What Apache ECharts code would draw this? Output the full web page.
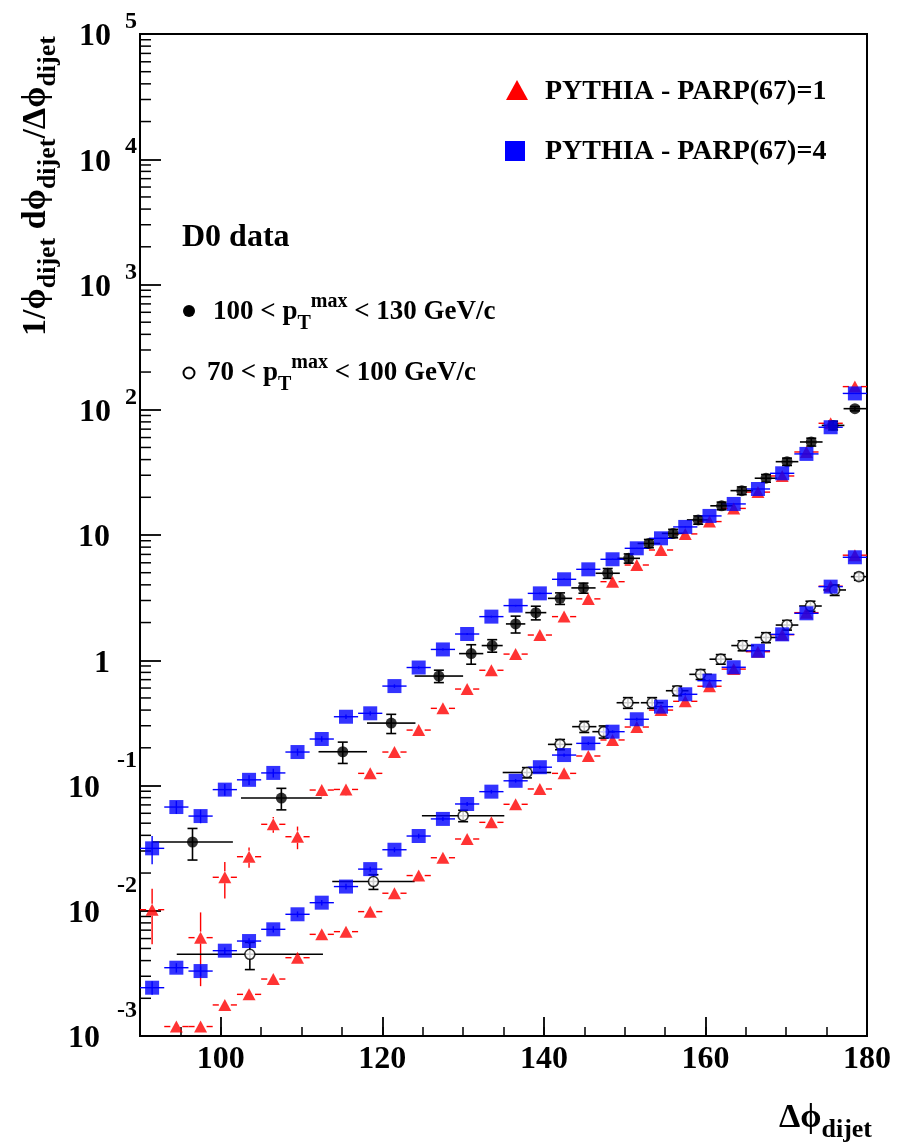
<!DOCTYPE html>
<html>
<head>
<meta charset="utf-8">
<script src="https://cdn.jsdelivr.net/npm/echarts@6/dist/echarts.min.js"></script>
<style>
  html, body { margin: 0; padding: 0; background: #fff; }
  #chart { width: 908px; height: 1146px; }
</style>
</head>
<body>
<div id="chart"></div>
<script>
// Monte Carlo bin centres (degrees) and half bin width
const mcBins = [91.5, 94.5, 97.5, 100.5, 103.5, 106.5, 109.5, 112.5, 115.5, 118.5,
  121.5, 124.5, 127.5, 130.5, 133.5, 136.5, 139.5, 142.5, 145.5, 148.5,
  151.5, 154.5, 157.5, 160.5, 163.5, 166.5, 169.5, 172.5, 175.5, 178.5];
const mcHalfWidth = 1.5;

// PYTHIA PARP(67)=1, 100 < pTmax < 130 GeV/c
const parp1High = [0.0102, null, 0.0061, 0.0185, 0.027, 0.049, 0.039, 0.092, 0.093, 0.125,
  0.185, 0.277, 0.413, 0.589, 0.832, 1.12, 1.59, 2.23, 3.09, 4.24,
  5.76, 7.59, 10.2, 12.8, 16.3, 22.0, 29.6, 46, 78, 153];
const parp1HighErr = [0.0048, null, 0.0036, 0.006, 0.005, 0.007, 0.008, 0.01, 0.01, 0.01,
  0.01, 0.012, 0.015, 0.02, 0.025, 0.03, 0.04, 0.05, 0.06, 0.08,
  0.1, 0.12, 0.15, 0.2, 0.25, 0.3, 0.4, 0.6, 0.9, 1.5];
// PYTHIA PARP(67)=1, 70 < pTmax < 100 GeV/c
const parp1Low = [null, 0.00119, 0.00119, 0.00177, 0.00215, 0.00285, 0.00422, 0.00648, 0.00681, 0.00984,
  0.0138, 0.0191, 0.0265, 0.0374, 0.0508, 0.0708, 0.0938, 0.125, 0.172, 0.231,
  0.293, 0.40, 0.47, 0.62, 0.85, 1.17, 1.6, 2.4, 3.9, 6.9];
const parp1LowErr = [null, 0.0001, 0.0001, 0.00015, 0.00015, 0.0002, 0.0003, 0.0004, 0.0004, 0.0005,
  0.0007, 0.0009, 0.0012, 0.0015, 0.002, 0.0025, 0.003, 0.004, 0.005, 0.006,
  0.008, 0.01, 0.012, 0.015, 0.02, 0.025, 0.03, 0.04, 0.06, 0.1];

// PYTHIA PARP(67)=4, 100 < pTmax < 130 GeV/c
const parp4High = [0.0315, 0.0673, 0.057, 0.0927, 0.111, 0.126, 0.185, 0.235, 0.354, 0.377,
  0.622, 0.875, 1.22, 1.62, 2.23, 2.73, 3.42, 4.43, 5.32, 6.40,
  7.83, 9.41, 11.6, 14.2, 17.7, 23.3, 31.1, 44.4, 72.5, 135];
const parp4HighErr = [0.008, 0.008, 0.007, 0.01, 0.01, 0.01, 0.012, 0.012, 0.015, 0.015,
  0.02, 0.02, 0.025, 0.03, 0.04, 0.04, 0.05, 0.06, 0.07, 0.08,
  0.09, 0.1, 0.12, 0.15, 0.2, 0.25, 0.3, 0.4, 0.6, 1.0];
// PYTHIA PARP(67)=4, 70 < pTmax < 100 GeV/c
const parp4Low = [0.00243, 0.00351, 0.0033, 0.0048, 0.00573, 0.00711, 0.00937, 0.0116, 0.0156, 0.0215,
  0.0307, 0.0395, 0.0541, 0.0712, 0.0893, 0.109, 0.140, 0.175, 0.217, 0.269,
  0.338, 0.426, 0.535, 0.687, 0.879, 1.19, 1.61, 2.37, 3.87, 6.64];
const parp4LowErr = [0.0003, 0.0003, 0.0003, 0.0003, 0.0003, 0.0004, 0.0005, 0.0006, 0.0008, 0.001,
  0.0014, 0.0017, 0.002, 0.0025, 0.003, 0.0035, 0.004, 0.005, 0.006, 0.007,
  0.009, 0.011, 0.013, 0.016, 0.02, 0.025, 0.03, 0.04, 0.06, 0.1];

// D0 data, 100 < pTmax < 130 GeV/c
const d0HighX = [96.5, 107.5, 115.1, 121.1, 127.0, 131.0, 133.6, 136.5, 139.0, 142.0,
  144.9, 147.9, 150.5, 153.0, 156.0, 159.1, 162.0, 164.5, 167.5, 170.1, 173.1, 175.8, 178.5];
const d0HighXErr = [5, 5, 3, 3, 3, 1.5, 1.3, 1.2, 1.3, 1.5,
  1.5, 1.5, 1.4, 1.4, 1.4, 1.4, 1.4, 1.4, 1.4, 1.4, 1.4, 1.4, 1.4];
const d0HighY = [0.0354, 0.0794, 0.186, 0.315, 0.748, 1.13, 1.31, 1.95, 2.40, 3.12,
  3.78, 4.95, 6.51, 8.56, 10.3, 13.2, 17.1, 22.6, 28.4, 38.5, 55.3, 75, 102];
const d0HighYErr = [0.010, 0.0155, 0.036, 0.055, 0.085, 0.2, 0.15, 0.3, 0.3, 0.33,
  0.35, 0.45, 0.55, 0.65, 0.8, 1.0, 1.2, 1.6, 2.0, 2.6, 4.0, 6, 4];

// D0 data, 70 < pTmax < 100 GeV/c
const d0LowX = [103.6, 118.9, 130.0, 137.9, 142.0, 145.0, 147.4, 150.4, 153.4, 156.5,
  159.4, 161.9, 164.6, 167.5, 170.1, 173.0, 176.0, 179.0];
const d0LowXErr = [9.05, 5.1, 5.1, 3, 1.5, 1.5, 1.4, 1.4, 1.4, 1.4,
  1.4, 1.4, 1.4, 1.4, 1.4, 1.4, 1.4, 1.0];
const d0LowY = [0.00449, 0.0171, 0.0574, 0.127, 0.213, 0.295, 0.269, 0.458, 0.458, 0.571,
  0.772, 1.02, 1.31, 1.52, 1.91, 2.71, 3.64, 4.65];
const d0LowYErr = [0.0011, 0.0023, 0.006, 0.012, 0.02, 0.03, 0.03, 0.045, 0.045, 0.05,
  0.07, 0.09, 0.12, 0.14, 0.17, 0.25, 0.35, 0.3];

// Axis ticks
const xMajorTicks = [100, 120, 140, 160, 180];
const yMinorMultipliers = [2, 3, 4, 5, 6, 7, 8, 9];
const yDecades = [-3, -2, -1, 0, 1, 2, 3, 4];

// Legend / annotation texts
const mcNames = ['PYTHIA - PARP(67)=1', 'PYTHIA - PARP(67)=4'];
const dataTitle = 'D0 data';
const PHI = 'ϕ';

const FONT = '"Liberation Serif", "Times New Roman", "DejaVu Serif", serif';
const RED = '#ff0000', BLUE = '#0000ff', BLACK = '#000000';

// Build [x, y, xErr, yErr] rows, skipping empty bins
function rows(xs, ys, xe, ye) {
  const out = [];
  for (let i = 0; i < xs.length; i++) {
    if (ys[i] == null) continue;
    out.push([xs[i], ys[i], Array.isArray(xe) ? xe[i] : xe, ye[i]]);
  }
  return out;
}

const yMinorTicks = [];
yDecades.forEach(function (d) {
  yMinorMultipliers.forEach(function (m) { yMinorTicks.push([90, m * Math.pow(10, d)]); });
});

// Error-bar renderer: horizontal bin width and vertical uncertainty,
// optionally leaving a gap around the marker and drawing end caps.
function errorBars(color, width, gap, cap) {
  return function (params, api) {
    const x = api.value(0), y = api.value(1), xe = api.value(2), ye = api.value(3);
    const c = api.coord([x, y]);
    const l = api.coord([x - xe, y]);
    const r = api.coord([x + xe, y]);
    const t = api.coord([x, y + ye]);
    const b = api.coord([x, Math.max(y - ye, 1e-6)]);
    const style = { stroke: color, lineWidth: width, fill: null };
    const kids = [];
    function seg(x1, y1, x2, y2) {
      kids.push({ type: 'line', shape: { x1: x1, y1: y1, x2: x2, y2: y2 }, style: style });
    }
    if (c[0] - l[0] > gap) seg(l[0], c[1], c[0] - gap, c[1]);
    if (r[0] - c[0] > gap) seg(c[0] + gap, c[1], r[0], c[1]);
    if (c[1] - t[1] > gap) {
      seg(c[0], t[1], c[0], c[1] - gap);
      if (cap) seg(c[0] - cap, t[1], c[0] + cap, t[1]);
    }
    if (b[1] - c[1] > gap) {
      seg(c[0], c[1] + gap, c[0], b[1]);
      if (cap) seg(c[0] - cap, b[1], c[0] + cap, b[1]);
    }
    return { type: 'group', children: kids };
  };
}

function errSeries(data, color, width, gap, cap) {
  return {
    type: 'custom', data: data, renderItem: errorBars(color, width, gap, cap),
    silent: true, clip: true, z: 2
  };
}
function markSeries(name, data, symbol, size, style) {
  return {
    type: 'scatter', name: name, data: data.map(function (d) { return [d[0], d[1]]; }),
    symbol: symbol, symbolSize: size, itemStyle: style, silent: true, z: 3
  };
}

const red1 = rows(mcBins, parp1High, mcHalfWidth, parp1HighErr);
const red2 = rows(mcBins, parp1Low, mcHalfWidth, parp1LowErr);
const blue1 = rows(mcBins, parp4High, mcHalfWidth, parp4HighErr);
const blue2 = rows(mcBins, parp4Low, mcHalfWidth, parp4LowErr);
const dHigh = rows(d0HighX, d0HighY, d0HighXErr, d0HighYErr);
const dLow = rows(d0LowX, d0LowY, d0LowXErr, d0LowYErr);

function yLabel(v) {
  const e = Math.round(Math.log10(v));
  if (e === 0) return '{p|1}';
  if (e === 1) return '{p|10}';
  if (e < 0) return '{b|10}{n|' + e + '}';
  return '{b|10}{e|' + e + '}';
}

const chart = echarts.init(document.getElementById('chart'), null, { renderer: 'canvas' });

const subRich = {
  m: { fontFamily: FONT, fontWeight: 'bold', fontSize: 34, fill: BLACK },
  s: { fontFamily: FONT, fontWeight: 'bold', fontSize: 26, fill: BLACK, padding: [24, 0, 0, 0] }
};
const ptRich = {
  m: { fontFamily: FONT, fontWeight: 'bold', fontSize: 27, fill: BLACK },
  s: { fontFamily: FONT, fontWeight: 'bold', fontSize: 20, fill: BLACK, padding: [24, 0, 0, 0] },
  u: { fontFamily: FONT, fontWeight: 'bold', fontSize: 20, fill: BLACK, padding: [0, 0, 20, 0] }
};

chart.setOption({
  animation: false,
  backgroundColor: '#ffffff',
  grid: {
    left: 140, right: 41, top: 34, bottom: 110,
    show: true, borderColor: BLACK, borderWidth: 2, backgroundColor: 'transparent'
  },
  xAxis: [
    {
      type: 'value', min: 90, max: 180, position: 'bottom',
      axisLine: { show: false }, splitLine: { show: false },
      axisTick: { show: true, inside: true, length: 19, customValues: xMajorTicks,
        lineStyle: { color: BLACK, width: 1.8 } },
      axisLabel: { customValues: xMajorTicks, fontFamily: FONT, fontWeight: 'bold',
        fontSize: 32, color: BLACK, margin: 8 }
    },
    {
      type: 'value', min: 90, max: 180, interval: 5, position: 'bottom',
      axisLine: { show: false }, splitLine: { show: false },
      axisTick: { show: true, inside: true, length: 9, lineStyle: { color: BLACK, width: 1.5 } },
      axisLabel: { show: false }
    }
  ],
  yAxis: {
    type: 'log', logBase: 10, min: 1e-3, max: 1e5, splitNumber: 8,
    axisLine: { show: false }, splitLine: { show: false },
    axisTick: { show: true, inside: true, length: 21, lineStyle: { color: BLACK, width: 1.8 } },
    axisLabel: {
      margin: 3, showMinLabel: true, showMaxLabel: true, formatter: yLabel,
      rich: {
        b: { fontFamily: FONT, fontWeight: 'bold', fontSize: 32, color: BLACK, padding: [6, 0, 0, 0] },
        p: { fontFamily: FONT, fontWeight: 'bold', fontSize: 32, color: BLACK, padding: [6, 27, 0, 0] },
        e: { fontFamily: FONT, fontWeight: 'bold', fontSize: 24, color: BLACK, padding: [0, 0, 24, 14] },
        n: { fontFamily: FONT, fontWeight: 'bold', fontSize: 24, color: BLACK, padding: [0, 0, 50, 17] }
      }
    }
  },
  series: [
    // minor ticks of the logarithmic axis
    {
      type: 'custom', data: yMinorTicks, silent: true, clip: false, z: 1,
      renderItem: function (params, api) {
        const p = api.coord([api.value(0), api.value(1)]);
        return { type: 'line', shape: { x1: p[0], y1: p[1], x2: p[0] + 11, y2: p[1] },
          style: { stroke: BLACK, lineWidth: 1.5 } };
      }
    },
    errSeries(red1, RED, 1.4, 6, 0),
    errSeries(red2, RED, 1.4, 6, 0),
    markSeries(mcNames[0], red1, 'triangle', [13, 12], { color: RED }),
    markSeries(mcNames[0], red2, 'triangle', [13, 12], { color: RED }),
    errSeries(dHigh, BLACK, 1.6, 0, 5),
    markSeries('100 < pTmax < 130 GeV/c', dHigh, 'circle', 11, { color: BLACK }),
    errSeries(dLow, BLACK, 1.6, 0, 5),
    markSeries('70 < pTmax < 100 GeV/c', dLow, 'circle', 10,
      { color: '#ffffff', borderColor: BLACK, borderWidth: 1.6 }),
    errSeries(blue1, BLUE, 1.4, 0, 0),
    errSeries(blue2, BLUE, 1.4, 0, 0),
    markSeries(mcNames[1], blue1, 'rect', 14, { color: BLUE }),
    markSeries(mcNames[1], blue2, 'rect', 14, { color: BLUE })
  ],
  graphic: [
    // y axis title
    {
      type: 'text', x: 36, y: 186, rotation: Math.PI / 2, silent: true,
      style: {
        text: '{m|1/' + PHI + '}{s|dijet}{m| d' + PHI + '}{s|dijet}{m|/Δ' + PHI + '}{s|dijet}',
        align: 'center', verticalAlign: 'middle', rich: subRich
      }
    },
    // x axis title
    {
      type: 'text', x: 872, y: 1118, silent: true,
      style: { text: '{m|Δ' + PHI + '}{s|dijet}', align: 'right', verticalAlign: 'middle', rich: subRich }
    },
    // Monte Carlo legend
    { type: 'polygon', silent: true, shape: { points: [[506, 100], [528, 100], [517, 80]] }, style: { fill: RED } },
    { type: 'text', x: 545, y: 92, silent: true,
      style: { text: mcNames[0], font: 'bold 28px ' + FONT, fill: BLACK, verticalAlign: 'middle' } },
    { type: 'rect', silent: true, shape: { x: 505, y: 141, width: 20, height: 20 }, style: { fill: BLUE } },
    { type: 'text', x: 545, y: 152, silent: true,
      style: { text: mcNames[1], font: 'bold 28px ' + FONT, fill: BLACK, verticalAlign: 'middle' } },
    // data legend
    { type: 'text', x: 182, y: 238, silent: true,
      style: { text: dataTitle, font: 'bold 32px ' + FONT, fill: BLACK, verticalAlign: 'middle' } },
    { type: 'circle', silent: true, shape: { cx: 189, cy: 311, r: 6 }, style: { fill: BLACK } },
    { type: 'text', x: 213, y: 312, silent: true,
      style: { text: '{m|100 < p}{s|T}{u|max}{m| < 130 GeV/c}', verticalAlign: 'middle', rich: ptRich } },
    { type: 'circle', silent: true, shape: { cx: 189, cy: 373, r: 5.5 }, style: { fill: '#ffffff', stroke: BLACK, lineWidth: 2 } },
    { type: 'text', x: 207, y: 373, silent: true,
      style: { text: '{m|70 < p}{s|T}{u|max}{m| < 100 GeV/c}', verticalAlign: 'middle', rich: ptRich } }
  ]
});
</script>
</body>
</html>
